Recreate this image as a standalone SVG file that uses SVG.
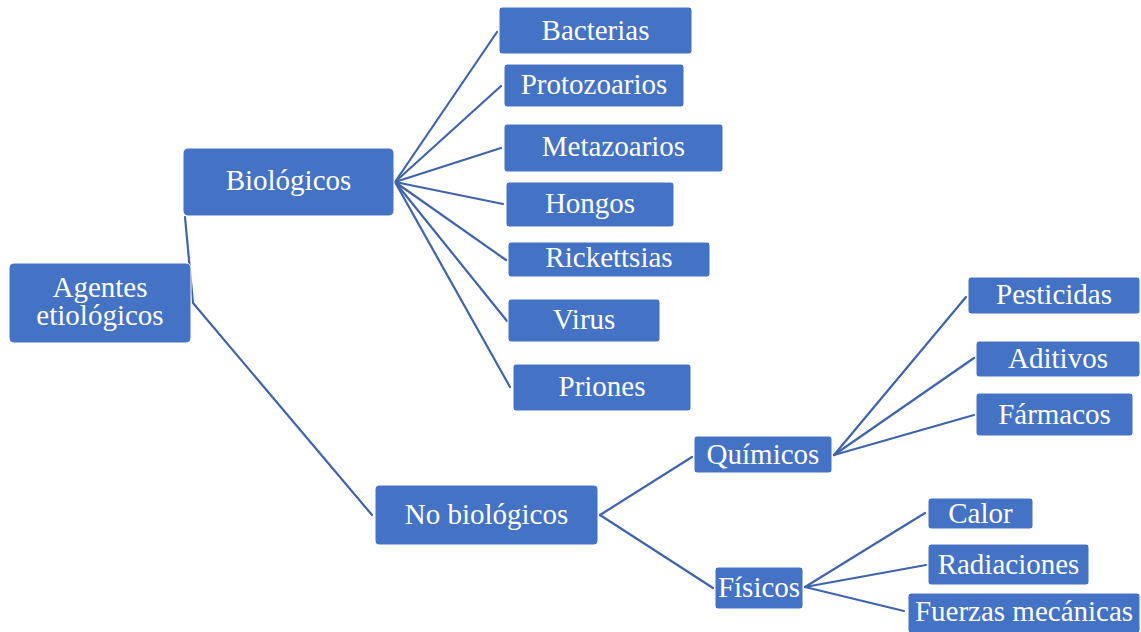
<svg xmlns="http://www.w3.org/2000/svg" width="1141" height="632" viewBox="0 0 1141 632">
  <style>
    .box { fill: #4472C4; stroke: #ffffff; stroke-width: 1; }
    .edge { fill: none; stroke: #3F64AC; stroke-width: 2.2; stroke-linecap: round; stroke-linejoin: round; }
  </style>
  <rect width="1141" height="632" fill="#ffffff"/>

  <g id="connectors">
    <!-- root to first level -->
    <polyline class="edge" points="185,217 193,303 372,515"/>
    <!-- Biológicos fan -->
    <line class="edge" x1="395" y1="182" x2="497" y2="32"/>
    <line class="edge" x1="395" y1="182" x2="501" y2="86"/>
    <line class="edge" x1="395" y1="182" x2="501" y2="148"/>
    <line class="edge" x1="395" y1="182" x2="503" y2="204"/>
    <line class="edge" x1="395" y1="182" x2="506" y2="260"/>
    <line class="edge" x1="395" y1="182" x2="507" y2="321"/>
    <line class="edge" x1="395" y1="182" x2="510" y2="387"/>
    <!-- No biológicos fan -->
    <line class="edge" x1="600" y1="515" x2="692" y2="457"/>
    <line class="edge" x1="600" y1="515" x2="713" y2="588"/>
    <!-- Químicos fan -->
    <line class="edge" x1="834" y1="455" x2="966" y2="297"/>
    <line class="edge" x1="834" y1="455" x2="974" y2="358"/>
    <line class="edge" x1="834" y1="455" x2="974" y2="415"/>
    <!-- Físicos fan -->
    <line class="edge" x1="805" y1="587" x2="925" y2="513"/>
    <line class="edge" x1="805" y1="587" x2="926" y2="565"/>
    <line class="edge" x1="805" y1="587" x2="904" y2="611"/>
  </g>

  <g font-family="'Liberation Serif'" font-size="29" fill="#ffffff" text-anchor="middle">
  <g id="agentes">
    <rect class="box" x="9" y="263" width="182" height="80" rx="5"/>
    <text x="100" y="297">Agentes</text>
    <text x="100" y="325">etiológicos</text>
  </g>
  <g id="biologicos">
    <rect class="box" x="183" y="148" width="211" height="68" rx="5"/>
    <text x="288.5" y="190">Biológicos</text>
  </g>
  <g id="bacterias">
    <rect class="box" x="499" y="7" width="193" height="47" rx="3"/>
    <text x="595.5" y="40">Bacterias</text>
  </g>
  <g id="protozoarios">
    <rect class="box" x="504" y="64" width="180" height="43" rx="3"/>
    <text x="594" y="94">Protozoarios</text>
  </g>
  <g id="metazoarios">
    <rect class="box" x="504" y="124" width="219" height="48" rx="3"/>
    <text x="613.5" y="156">Metazoarios</text>
  </g>
  <g id="hongos">
    <rect class="box" x="506" y="182" width="168" height="45" rx="3"/>
    <text x="590" y="213">Hongos</text>
  </g>
  <g id="rickettsias">
    <rect class="box" x="508" y="242" width="202" height="35" rx="3"/>
    <text x="609" y="267">Rickettsias</text>
  </g>
  <g id="virus">
    <rect class="box" x="508" y="299" width="152" height="43" rx="3"/>
    <text x="584" y="329">Virus</text>
  </g>
  <g id="priones">
    <rect class="box" x="513" y="364" width="178" height="47" rx="3"/>
    <text x="602" y="396">Priones</text>
  </g>
  <g id="no-biologicos">
    <rect class="box" x="375" y="485" width="223" height="60" rx="4"/>
    <text x="486.5" y="524">No biológicos</text>
  </g>
  <g id="quimicos">
    <rect class="box" x="694" y="436" width="138" height="37" rx="3"/>
    <text x="763" y="464">Químicos</text>
  </g>
  <g id="fisicos">
    <rect class="box" x="715" y="567" width="88" height="42" rx="3"/>
    <text x="759" y="597">Físicos</text>
  </g>
  <g id="pesticidas">
    <rect class="box" x="968" y="277" width="172" height="37" rx="3"/>
    <text x="1054" y="304">Pesticidas</text>
  </g>
  <g id="aditivos">
    <rect class="box" x="976" y="341" width="164" height="36" rx="3"/>
    <text x="1058" y="368">Aditivos</text>
  </g>
  <g id="farmacos">
    <rect class="box" x="976" y="393" width="157" height="43" rx="3"/>
    <text x="1054.5" y="424">Fármacos</text>
  </g>
  <g id="calor">
    <rect class="box" x="928" y="498" width="105" height="31" rx="3"/>
    <text x="980.5" y="523">Calor</text>
  </g>
  <g id="radiaciones">
    <rect class="box" x="928" y="544" width="161" height="41" rx="3"/>
    <text x="1008.5" y="574">Radiaciones</text>
  </g>
  <g id="fuerzas">
    <rect class="box" x="908" y="593" width="232" height="40" rx="3"/>
    <text x="1024" y="621">Fuerzas mecánicas</text>
  </g>
  </g>
</svg>
